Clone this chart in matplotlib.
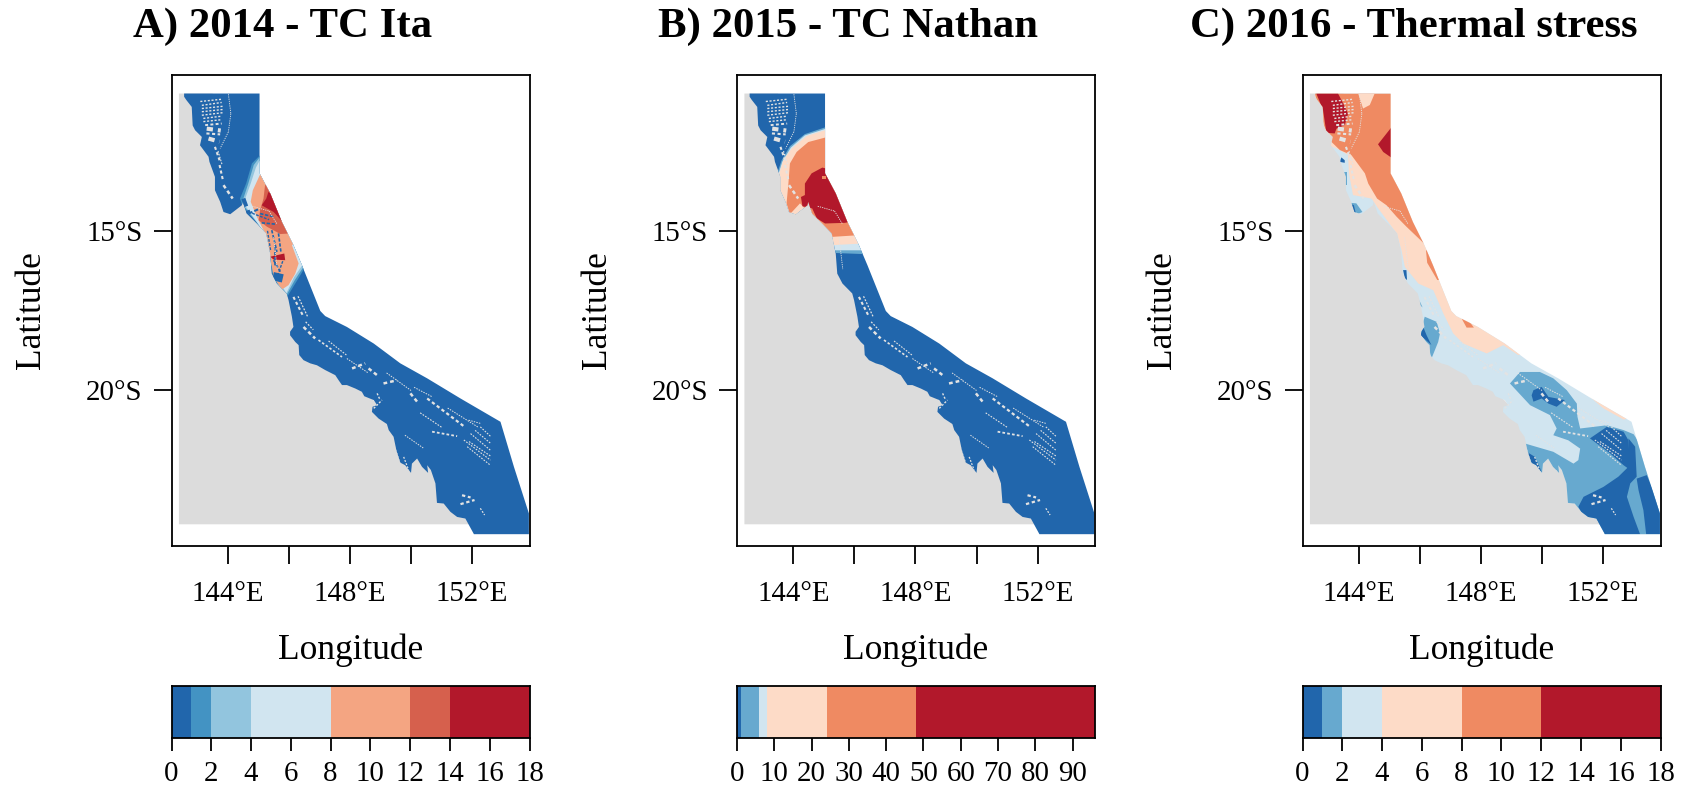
"""
Great Barrier Reef disturbance maps, one panel per year
"""

import matplotlib
matplotlib.use('Agg')
import matplotlib.pyplot as plt

from matplotlib.patches import Polygon

plt.rcParams['font.family'] = ['Liberation Serif', 'DejaVu Serif']

# brewer RdBu colours
BLUE1 = '#2166AC'
BLUE2 = '#4393C3'
BLUE3 = '#92C5DE'
BLUE4 = '#67A9CF'
PALE_BLUE = '#D1E5F0'
PALE_RED = '#FDDBC7'
ORANGE = '#EF8A62'
SALMON = '#F4A582'
MID_RED = '#D6604D'
RED = '#B2182B'
LAND = '#DCDCDC'
GAP = '#E3E3E3'

TITLES = ['A) 2014 - TC Ita', 'B) 2015 - TC Nathan', 'C) 2016 - Thermal stress']

XLIM = (142.157, 153.88)
YLIM = (-24.87, -10.12)
LON_TICKS = [144, 146, 148, 150, 152]
LON_LABELS = ['144°E', '', '148°E', '', '152°E']
LAT_TICKS = [-15, -20]
LAT_LABELS = ['15°S', '20°S']

# colour bars
BREAKS_A = [0, 1, 2, 4, 8, 12, 14, 18]
COLOURS_A = [BLUE1, BLUE2, BLUE3, PALE_BLUE, SALMON, MID_RED, RED]
TICKS_A = [0, 2, 4, 6, 8, 10, 12, 14, 16, 18]
BREAKS_B = [0, 1, 6, 8, 24, 48, 96]
COLOURS_B = [BLUE1, BLUE4, PALE_BLUE, PALE_RED, ORANGE, RED]
TICKS_B = [0, 10, 20, 30, 40, 50, 60, 70, 80, 90]
BREAKS_C = [0, 1, 2, 4, 8, 12, 18]
COLOURS_C = [BLUE1, BLUE4, PALE_BLUE, PALE_RED, ORANGE, RED]
TICKS_C = [0, 2, 4, 6, 8, 10, 12, 14, 16, 18]

# outlines, lon lat
LAND_SHAPE = [(142.40, -10.70), (143.50, -10.70), (144.50, -13.50), (146.00, -16.00),
              (147.00, -18.50), (151.90, -23.50), (151.90, -24.19), (142.40, -24.19)]

REEF = [(142.57, -10.70), (145.04, -10.70), (145.04, -13.20), (145.39, -13.83), (145.77, -14.72),
        (146.15, -15.45), (146.43, -16.08), (147.03, -17.51), (147.19, -17.67), (147.90, -18.01),
        (148.78, -18.53), (149.65, -19.15), (150.53, -19.62), (151.62, -20.25), (152.93, -20.98),
        (153.37, -22.39), (153.86, -23.85), (153.86, -24.50), (152.06, -24.50), (151.78, -24.01),
        (151.51, -23.96), (151.29, -23.80), (151.07, -23.54), (150.85, -23.52), (150.80, -22.91),
        (150.65, -22.49), (150.53, -22.34), (150.56, -22.58), (150.36, -22.39), (150.20, -22.13),
        (150.03, -22.29), (150.00, -22.58), (149.81, -22.34), (149.65, -22.26), (149.52, -21.87),
        (149.43, -21.45), (149.27, -21.24), (149.21, -21.05), (148.94, -20.88), (148.72, -20.67),
        (148.74, -20.51), (148.89, -20.46), (148.78, -20.30), (148.47, -20.18), (148.39, -20.04),
        (148.18, -19.94), (147.90, -19.83), (147.74, -19.83), (147.63, -19.68), (147.52, -19.52),
        (147.19, -19.36), (146.92, -19.21), (146.70, -19.15), (146.48, -19.05), (146.34, -18.89),
        (146.32, -18.58), (146.21, -18.48), (146.04, -18.27), (146.04, -18.16), (146.15, -18.01),
        (146.10, -17.69), (145.99, -17.17), (145.93, -16.96), (145.61, -16.65), (145.44, -16.34),
        (145.39, -15.71), (145.26, -15.08), (144.95, -14.77), (144.62, -14.46), (144.49, -14.09),
        (144.46, -14.20), (144.08, -14.48), (143.86, -14.41), (143.75, -14.09), (143.58, -13.73),
        (143.58, -13.31), (143.40, -12.84), (143.37, -12.68), (143.09, -12.32), (143.15, -12.06),
        (142.93, -11.85), (142.85, -11.70), (142.82, -11.12), (142.64, -10.90), (142.57, -10.80)]

# gaps in the reef matrix: lon1, lat1, lon2, lat2, width
GAPS = [(143.10, -10.95, 143.80, -10.88, 1.0), (143.15, -11.07, 143.80, -10.98, 1.0),
        (143.15, -11.17, 143.84, -11.10, 1.0), (143.15, -11.27, 143.84, -11.20, 1.0),
        (143.15, -11.38, 143.84, -11.30, 1.0), (143.20, -11.48, 143.80, -11.41, 1.0),
        (143.20, -11.58, 143.80, -11.52, 1.0), (143.26, -11.69, 143.80, -11.64, 1.4),
        (143.31, -11.80, 143.77, -11.86, 3.0), (143.30, -11.95, 143.75, -11.98, 1.5),
        (143.37, -12.11, 143.73, -12.21, 3.0), (143.58, -12.37, 143.73, -12.79, 1.5),
        (143.68, -12.50, 143.82, -12.95, 0.8), (143.73, -12.94, 143.84, -13.41, 1.5),
        (143.86, -13.57, 144.16, -13.99, 1.8), (144.02, -10.72, 144.10, -11.33, 0.6),
        (144.10, -11.33, 144.02, -11.90, 0.6), (144.02, -11.90, 143.75, -12.42, 0.6),
        (144.80, -14.23, 145.35, -14.38, 0.6), (145.35, -14.38, 145.62, -14.80, 0.6),
        (145.50, -15.20, 145.62, -16.20, 0.6), (146.15, -17.07, 146.48, -17.69, 1.5),
        (146.30, -17.05, 146.62, -17.70, 0.9), (146.48, -18.01, 146.86, -18.37, 1.8),
        (146.55, -17.85, 146.80, -18.10, 0.9), (146.97, -18.42, 147.74, -18.95, 1.2),
        (147.30, -18.45, 147.90, -18.90, 0.8), (148.07, -19.31, 148.50, -19.15, 1.8),
        (148.61, -19.31, 148.89, -19.52, 1.8), (147.90, -19.00, 148.60, -19.45, 0.7),
        (149.10, -19.78, 149.54, -19.68, 1.8), (149.20, -19.45, 150.00, -20.00, 0.7),
        (149.98, -20.09, 150.25, -20.41, 1.8), (150.53, -20.25, 151.73, -21.12, 1.6),
        (150.10, -19.90, 150.70, -20.20, 0.7), (150.69, -21.29, 151.51, -21.43, 1.3),
        (150.30, -20.70, 151.00, -21.15, 0.8), (151.20, -20.55, 152.20, -21.15, 0.7),
        (151.89, -20.93, 152.27, -21.03, 0.7), (151.67, -23.28, 151.95, -23.35, 1.6),
        (151.62, -23.56, 152.08, -23.43, 1.6), (152.27, -23.69, 152.41, -23.90, 0.9),
        (148.78, -20.56, 149.05, -20.30, 1.0), (148.89, -20.09, 148.99, -20.30, 1.0),
        (149.43, -21.66, 149.65, -22.29, 0.9), (149.76, -22.08, 149.92, -22.49, 0.9),
        (149.80, -21.40, 150.40, -21.80, 0.7), (151.73, -21.55, 152.60, -22.18, 0.8),
        (151.95, -21.35, 152.60, -21.87, 0.8), (152.27, -21.14, 152.62, -21.45, 0.8),
        (151.84, -21.76, 152.60, -22.34, 0.8), (152.10, -21.25, 152.60, -21.65, 0.8),
        (151.90, -21.60, 152.60, -22.05, 0.8)]

# panel A zones
A_RIM1 = [(145.06, -12.63), (144.79, -12.89), (144.60, -13.52), (144.40, -13.99), (144.49, -14.25),
          (145.06, -14.87), (145.55, -16.65), (145.88, -17.17), (146.21, -16.65), (146.54, -16.13),
          (147.25, -16.13), (146.15, -12.63)]
A_RIM2 = [(145.04, -12.70), (144.85, -12.94), (144.67, -13.52), (144.51, -13.99), (144.55, -14.25),
          (145.06, -14.87), (145.60, -16.60), (145.90, -17.05), (146.19, -16.55), (146.50, -16.10),
          (147.25, -16.13), (146.15, -12.70)]
A_RIM3 = [(145.04, -12.81), (144.92, -13.02), (144.75, -13.52), (144.57, -13.99), (144.60, -14.25),
          (145.06, -14.87), (145.65, -16.55), (145.92, -16.95), (146.17, -16.45), (146.46, -16.05),
          (147.25, -16.13), (146.15, -12.81)]
A_SALMON = [(145.06, -13.23), (144.82, -13.73), (144.75, -14.09), (144.95, -14.56), (145.28, -15.19),
            (145.39, -15.81), (145.50, -16.44), (145.77, -16.84), (145.99, -16.70), (146.21, -16.34),
            (146.32, -16.02), (146.10, -15.45), (146.48, -15.19), (146.15, -13.10)]
A_MID_RED = [(145.22, -13.57), (145.17, -13.99), (145.06, -14.35), (145.01, -14.67), (145.28, -14.87),
             (145.72, -15.10), (146.10, -15.08), (145.77, -14.56), (145.39, -13.52)]
A_RED = [(145.33, -13.78), (145.26, -13.99), (145.11, -14.20), (145.50, -14.41), (145.80, -14.72),
         (145.55, -13.94)]
A_RED_SPOT = [(145.39, -15.81), (145.85, -15.71), (145.88, -15.92), (145.50, -15.90)]
# left-over blue patches in the salmon zone: lon1, lat1, lon2, lat2, width
A_SCRAPS = [(144.51, -13.99, 144.68, -14.44, 3.0), (144.68, -14.46, 145.06, -14.30, 1.5),
            (145.06, -14.46, 145.50, -14.56, 1.2), (145.11, -14.75, 145.55, -14.79, 1.2),
            (145.44, -14.98, 145.61, -15.66, 1.2), (145.66, -15.08, 145.74, -15.66, 1.2),
            (145.50, -15.92, 145.72, -16.28, 1.2), (145.48, -16.42, 145.80, -16.49, 6.0),
            (145.55, -15.50, 145.55, -16.13, 1.2), (144.80, -14.45, 145.35, -14.65, 1.0),
            (145.30, -15.00, 145.40, -15.60, 1.0), (145.80, -15.95, 145.65, -16.35, 1.0)]

# panel B zones
B_RIM = [(145.04, -11.76), (144.38, -11.97), (143.89, -12.35), (143.62, -12.79), (143.40, -13.41),
         (143.40, -14.67), (145.26, -15.69), (146.35, -15.73), (147.22, -14.14), (146.13, -11.76)]
B_PALE_BLUE = [(145.04, -11.81), (144.38, -12.01), (143.92, -12.39), (143.64, -12.84), (143.45, -13.41),
               (143.45, -14.67), (145.26, -15.61), (146.30, -15.61), (147.22, -14.14), (146.13, -11.81)]
B_PALE_RED = [(145.04, -11.85), (144.44, -12.03), (143.95, -12.42), (143.67, -12.79), (143.51, -13.31),
              (143.51, -14.67), (145.26, -15.45), (146.19, -15.40), (147.22, -14.14), (146.13, -11.85)]
B_ORANGE = [(145.04, -12.08), (144.49, -12.22), (144.11, -12.53), (143.89, -12.89), (143.84, -13.52),
            (143.78, -14.14), (143.89, -14.48), (144.22, -14.14), (145.26, -15.19), (146.08, -15.14),
            (147.22, -14.14), (146.13, -12.08)]
B_RED = [(144.95, -13.02), (144.60, -13.20), (144.38, -13.52), (144.38, -13.88), (144.25, -13.94),
         (144.30, -14.23), (144.62, -14.30), (144.77, -14.61), (145.04, -14.77), (145.69, -14.75),
         (145.86, -14.72), (145.53, -13.83), (145.09, -13.05)]
B_SPOT = [(144.93, -13.29), (145.06, -13.29), (145.06, -13.37), (144.93, -13.37)]

# panel C zones
C_PALE_RED = [(142.39, -10.70), (146.11, -10.70), (147.42, -15.40), (149.72, -18.84), (149.22, -18.89),
              (148.73, -18.58), (148.19, -18.84), (147.42, -18.53), (147.09, -18.21), (146.77, -17.59),
              (146.44, -16.86), (145.95, -16.65), (145.51, -16.13), (145.40, -15.61), (145.24, -15.08),
              (144.60, -14.25), (144.42, -13.99), (143.81, -13.88), (143.68, -13.20), (143.65, -12.63),
              (143.38, -12.47), (142.39, -12.06)]
C_EDGE_PALE = [(151.57, -20.20), (152.01, -20.56), (152.67, -20.91), (153.10, -20.82), (152.12, -19.99)]
C_ORANGE = [(142.56, -10.70), (145.10, -10.70), (145.13, -13.10), (146.22, -15.40), (146.14, -15.40),
            (145.56, -14.87), (145.24, -14.56), (144.91, -14.20), (144.60, -13.99), (144.31, -13.52),
            (144.20, -13.20), (143.76, -12.63), (143.38, -12.47), (143.10, -12.21), (142.94, -11.95)]
C_TOP_PALE = [(143.98, -10.70), (144.14, -11.17), (144.36, -11.06), (144.52, -10.70)]
C_SLIVER = [(146.20, -15.61), (146.24, -16.00), (146.57, -16.54), (146.87, -16.54), (146.44, -15.61)]
C_ORANGE_SPOT = [(147.37, -17.75), (147.53, -18.03), (147.77, -18.03), (147.59, -17.80)]
C_RED_NW = [(142.61, -10.70), (143.32, -10.70), (143.49, -11.01), (143.65, -11.33), (143.54, -11.69),
            (143.27, -11.80), (143.21, -11.95), (142.94, -11.93), (142.83, -11.22)]
C_RED_E = [(145.10, -11.72), (144.63, -12.29), (144.80, -12.53), (145.10, -12.73), (145.45, -12.73),
           (145.45, -11.72)]
C_MID1 = [(146.16, -17.69), (146.55, -17.85), (146.66, -18.21), (146.60, -18.48), (146.38, -19.00),
          (146.27, -18.58), (146.00, -18.21)]
C_MID2 = [(148.95, -19.78), (149.28, -19.42), (149.93, -19.42), (150.37, -19.62), (150.81, -19.99),
          (151.14, -20.41), (151.16, -20.82), (151.25, -21.19), (152.12, -21.09), (152.67, -21.24),
          (153.00, -21.37), (153.76, -22.49), (154.31, -24.58), (150.70, -24.58), (150.48, -22.49),
          (150.04, -22.70), (149.39, -22.49), (149.44, -21.66), (150.37, -21.92), (151.03, -22.29),
          (151.19, -22.18), (151.25, -21.82), (150.86, -21.56), (150.37, -21.40), (150.48, -21.19),
          (150.26, -20.77), (149.61, -20.46)]
C_MID3 = [(143.68, -14.12), (143.92, -14.14), (144.12, -14.41), (143.92, -14.49), (143.76, -14.41)]
C_MID4 = [(143.52, -13.15), (143.60, -13.15), (143.60, -13.57), (143.55, -13.57)]
C_MID5 = [(145.98, -17.17), (146.09, -17.40), (146.01, -17.33)]
C_DARK1 = [(149.66, -20.15), (149.72, -19.99), (149.99, -19.89), (150.21, -20.20), (150.75, -20.30),
           (150.48, -20.51), (150.21, -20.41), (149.99, -20.25), (149.72, -20.35)]
C_DARK2 = [(151.57, -21.50), (152.12, -21.14), (152.67, -21.29), (152.83, -21.56), (152.89, -22.49),
           (152.67, -22.34), (152.23, -21.97)]
C_DARK3 = [(152.83, -21.50), (153.05, -21.76), (153.10, -22.70), (152.89, -22.91), (152.78, -23.33),
           (153.00, -23.96), (153.21, -24.50), (152.01, -24.50), (151.79, -24.06), (151.36, -23.96),
           (151.19, -23.64), (151.36, -23.33), (152.01, -23.02), (152.50, -22.70), (152.83, -22.39)]
C_DARK4 = [(153.10, -22.76), (153.43, -22.65), (154.00, -23.96), (154.00, -24.50), (153.41, -24.50),
           (153.32, -23.75), (153.16, -23.12)]
C_DARK5 = [(149.50, -21.92), (149.77, -22.08), (149.99, -22.55), (149.72, -22.39)]
C_DARK6 = [(143.38, -12.84), (143.43, -12.70), (143.54, -12.79), (143.54, -12.87)]
C_DARK7 = [(143.70, -14.14), (143.84, -14.20), (143.90, -14.44), (143.79, -14.41)]
C_DARK8 = [(145.45, -16.23), (145.56, -16.23), (145.58, -16.54), (145.51, -16.49)]
C_DARK9 = [(146.11, -18.01), (146.02, -18.27), (146.38, -18.58), (146.22, -18.27)]

LAYERS_A = [(A_RIM1, BLUE2), (A_RIM2, BLUE3), (A_RIM3, PALE_BLUE), (A_SALMON, SALMON),
            (A_MID_RED, MID_RED), (A_RED, RED), (A_RED_SPOT, RED)]
LAYERS_B = [(B_RIM, BLUE4), (B_PALE_BLUE, PALE_BLUE), (B_PALE_RED, PALE_RED), (B_ORANGE, ORANGE),
            (B_RED, RED), (B_SPOT, ORANGE)]
LAYERS_C = [(C_PALE_RED, PALE_RED), (C_EDGE_PALE, PALE_RED), (C_ORANGE, ORANGE), (C_TOP_PALE, PALE_RED),
            (C_SLIVER, ORANGE), (C_ORANGE_SPOT, ORANGE), (C_RED_NW, RED), (C_RED_E, RED),
            (C_MID1, BLUE4), (C_MID2, BLUE4), (C_MID3, BLUE4), (C_MID4, BLUE4), (C_MID5, BLUE4),
            (C_DARK1, BLUE1), (C_DARK2, BLUE1), (C_DARK3, BLUE1), (C_DARK4, BLUE1), (C_DARK5, BLUE1),
            (C_DARK6, BLUE1), (C_DARK7, BLUE1), (C_DARK8, BLUE1), (C_DARK9, BLUE1)]

FIG_W, FIG_H = 1686, 786
PANEL_LEFT = [171.5, 737, 1302.5]
PANEL_W = 358
MAP_TOP, MAP_BOTTOM = 75, 546
BAR_TOP, BAR_BOTTOM = 686, 738


def axes_px(fig, left, top, width, height):
  return fig.add_axes([left / FIG_W, 1 - (top + height) / FIG_H, width / FIG_W, height / FIG_H])


def draw_map(ax, base, layers, scraps=()):
  ax.add_patch(Polygon(LAND_SHAPE, facecolor=LAND, edgecolor='none', zorder=1))
  reef = Polygon(REEF, facecolor=base, edgecolor='none', zorder=2)
  ax.add_patch(reef)

  for shape, colour in layers:
    patch = Polygon(shape, facecolor=colour, edgecolor='none', zorder=3)
    ax.add_patch(patch)
    patch.set_clip_path(reef)

  for lon1, lat1, lon2, lat2, width in scraps:
    line, = ax.plot([lon1, lon2], [lat1, lat2], color=BLUE1, lw=width, ls=(0, (2, 1)), zorder=4)
    line.set_clip_path(reef)

  for lon1, lat1, lon2, lat2, width in GAPS:
    line, = ax.plot([lon1, lon2], [lat1, lat2], color=GAP, lw=width, ls=(0, (1.5, 1.2)), zorder=5)
    line.set_clip_path(reef)

  ax.set_xlim(*XLIM)
  ax.set_ylim(*YLIM)
  ax.set_xticks(LON_TICKS)
  ax.set_xticklabels(LON_LABELS)
  ax.set_yticks(LAT_TICKS)
  ax.set_yticklabels(LAT_LABELS)
  ax.tick_params(axis='both', length=13, width=1.3, labelsize=20.8)
  ax.tick_params(axis='x', pad=12)
  ax.tick_params(axis='y', pad=8)
  ax.set_xlabel('Longitude', fontsize=25.5)
  ax.set_ylabel('Latitude', fontsize=25.5)
  ax.xaxis.set_label_coords(0.5, -0.222, transform=ax.transAxes)
  ax.yaxis.set_label_coords(-0.391, 0.5, transform=ax.transAxes)
  ax.xaxis.label.set_verticalalignment('center')
  ax.yaxis.label.set_verticalalignment('center')
  for spine in ax.spines.values():
    spine.set_linewidth(1.3)


def draw_bar(ax, breaks, colours, ticks):
  ax.bar(breaks[:-1], [1] * len(colours), width=[b - a for a, b in zip(breaks[:-1], breaks[1:])],
         align='edge', color=colours, edgecolor='none')
  ax.set_xlim(breaks[0], breaks[-1])
  ax.set_ylim(0, 1)
  ax.set_yticks([])
  ax.set_xticks(ticks)
  ax.tick_params(axis='x', length=9.5, width=1.3, labelsize=20.8, pad=7)
  for spine in ax.spines.values():
    spine.set_linewidth(1.3)


fig = plt.figure(figsize=(FIG_W / 100, FIG_H / 100), dpi=100)

panels = [(BLUE1, LAYERS_A, A_SCRAPS, BREAKS_A, COLOURS_A, TICKS_A),
          (BLUE1, LAYERS_B, (), BREAKS_B, COLOURS_B, TICKS_B),
          (PALE_BLUE, LAYERS_C, (), BREAKS_C, COLOURS_C, TICKS_C)]

for left, title, panel in zip(PANEL_LEFT, TITLES, panels):
  base, layers, scraps, breaks, colours, ticks = panel
  map_ax = axes_px(fig, left, MAP_TOP, PANEL_W, MAP_BOTTOM - MAP_TOP)
  draw_map(map_ax, base, layers, scraps)
  bar_ax = axes_px(fig, left, BAR_TOP, PANEL_W, BAR_BOTTOM - BAR_TOP)
  draw_bar(bar_ax, breaks, colours, ticks)
  fig.text((left + PANEL_W / 2 - 68) / FIG_W, 1 - 27 / FIG_H, title, fontsize=30.8,
           fontweight='bold', ha='center', va='center')

fig.savefig('out.png', dpi=100)
